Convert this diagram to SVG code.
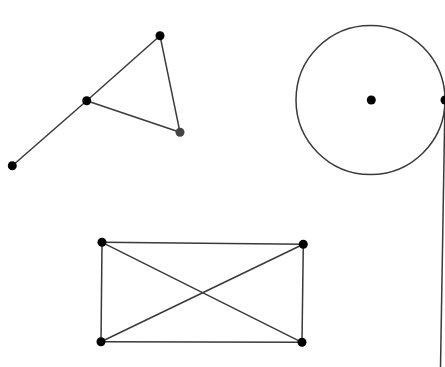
<svg xmlns="http://www.w3.org/2000/svg" width="445" height="367" viewBox="0 0 445 367">
<style>
.ln{stroke:#3a3a3a;stroke-width:1.5;fill:none}
.pt{fill:#000}
.pg{fill:#444}
</style>
<rect width="445" height="367" fill="#fff"/>
<g id="connectors">
<line class="ln" x1="12.3" y1="165.7" x2="86.7" y2="100.7"/>
<line class="ln" x1="86.7" y1="100.7" x2="160" y2="35.7"/>
<line class="ln" x1="160" y1="35.7" x2="180" y2="132.3"/>
<line class="ln" x1="180" y1="132.3" x2="86.7" y2="100.7"/>
<line class="ln" x1="445" y1="100" x2="440.5" y2="367"/>
<line class="ln" x1="102" y1="242.3" x2="303.3" y2="244.3"/>
<line class="ln" x1="303.3" y1="244.3" x2="302" y2="342.3"/>
<line class="ln" x1="302" y1="342.3" x2="101" y2="341.7"/>
<line class="ln" x1="101" y1="341.7" x2="102" y2="242.3"/>
<line class="ln" x1="102" y1="242.3" x2="302" y2="342.3"/>
<line class="ln" x1="101" y1="341.7" x2="303.3" y2="244.3"/>
</g>
<g id="circle"><circle class="ln" cx="370.5" cy="100" r="74.5"/></g>
<g id="p1"><circle class="pt" cx="12.3" cy="165.7" r="4.5"/></g>
<g id="p2"><circle class="pt" cx="86.7" cy="100.7" r="4.5"/></g>
<g id="p3"><circle class="pt" cx="160" cy="35.7" r="4.5"/></g>
<g id="p4"><circle class="pg" cx="180" cy="132.3" r="4.5"/></g>
<g id="p5"><circle class="pt" cx="371.3" cy="100" r="4.5"/></g>
<g id="p6"><circle class="pt" cx="445" cy="100" r="4.5"/></g>
<g id="p7"><circle class="pt" cx="102" cy="242.3" r="4.5"/></g>
<g id="p8"><circle class="pt" cx="303.3" cy="244.3" r="4.5"/></g>
<g id="p9"><circle class="pt" cx="101" cy="341.7" r="4.5"/></g>
<g id="p10"><circle class="pt" cx="302" cy="342.3" r="4.5"/></g>
</svg>
